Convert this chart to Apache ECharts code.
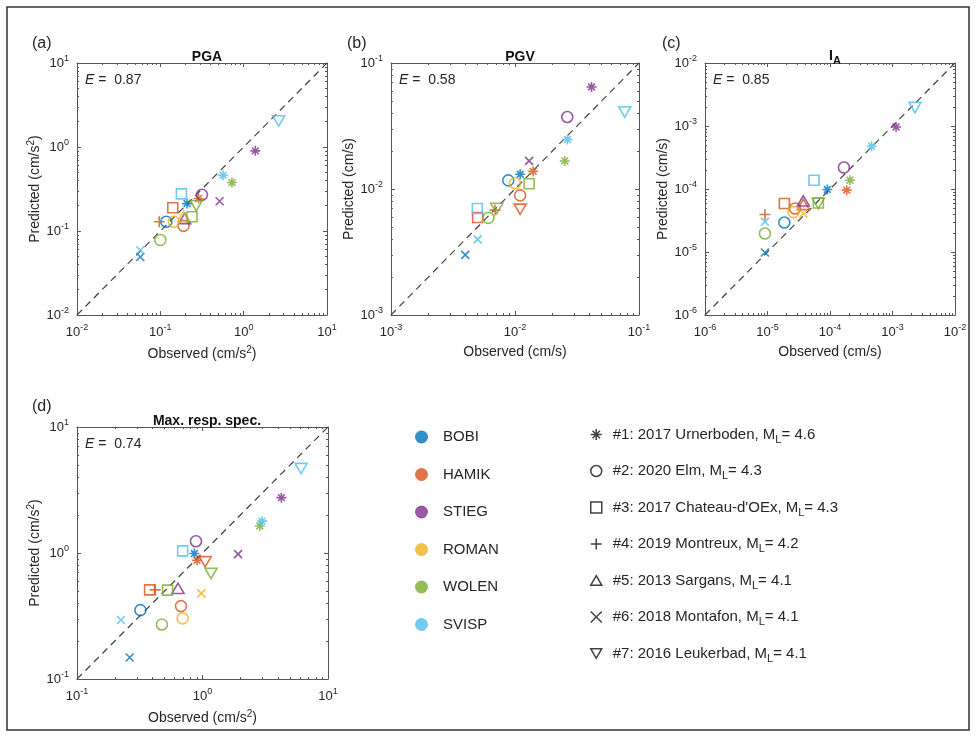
<!DOCTYPE html>
<html><head><meta charset="utf-8">
<script src="https://cdn.jsdelivr.net/npm/echarts@6/dist/echarts.min.js"></script>
<style>html,body{margin:0;padding:0;background:#fff}#c{width:976px;height:737px}</style>
</head><body><div id="c"></div>
<script>
// ---------------- DATA ----------------
const stations = ['BOBI', 'HAMIK', 'STIEG', 'ROMAN', 'WOLEN', 'SVISP'];
const stationColors = ['#0072BD', '#D95319', '#7E2F8E', '#EDB120', '#77AC30', '#4DBEEE'];
const eventLabels = ['#1: 2017 Urnerboden, M', '#2: 2020 Elm, M', "#3: 2017 Chateau-d'OEx, M",
  '#4: 2019 Montreux, M', '#5: 2013 Sargans, M', '#6: 2018 Montafon, M', '#7: 2016 Leukerbad, M'];
const eventMagnitudes = ['4.6', '4.3', '4.3', '4.2', '4.1', '4.1', '4.1'];
const panelLabels = ['(a)', '(b)', '(c)', '(d)'];
const panelTitles = ['PGA', 'PGV', 'IA', 'Max. resp. spec.'];
const efficiency = ['0.87', '0.58', '0.85', '0.74'];
const axisMin = [1e-2, 1e-3, 1e-6, 1e-1];
const axisMax = [1e1, 1e-1, 1e-2, 1e1];
const unitSquared = [true, false, false, true];

// rows: [station, event number, observed, predicted]
const pgaPoints = [
  ['BOBI', 1, 0.209, 0.212], ['BOBI', 2, 0.118, 0.129], ['BOBI', 6, 0.0575, 0.049],
  ['HAMIK', 1, 0.288, 0.244], ['HAMIK', 2, 0.19, 0.115], ['HAMIK', 3, 0.141, 0.189], ['HAMIK', 4, 0.097, 0.129],
  ['STIEG', 1, 1.38, 0.9], ['STIEG', 2, 0.316, 0.27], ['STIEG', 5, 0.196, 0.141], ['STIEG', 6, 0.515, 0.226],
  ['ROMAN', 2, 0.145, 0.129], ['ROMAN', 5, 0.19, 0.15],
  ['WOLEN', 1, 0.724, 0.378], ['WOLEN', 2, 0.1, 0.078], ['WOLEN', 3, 0.24, 0.148], ['WOLEN', 7, 0.27, 0.2],
  ['SVISP', 1, 0.565, 0.46], ['SVISP', 3, 0.179, 0.277], ['SVISP', 6, 0.0575, 0.059], ['SVISP', 7, 2.63, 2.04]
];
const pgvPoints = [
  ['BOBI', 1, 0.011, 0.0131], ['BOBI', 2, 0.00883, 0.0117], ['BOBI', 6, 0.00397, 0.003],
  ['HAMIK', 1, 0.014, 0.0138], ['HAMIK', 2, 0.011, 0.0089], ['HAMIK', 3, 0.005, 0.00594], ['HAMIK', 4, 0.0069, 0.0068], ['HAMIK', 7, 0.011, 0.0069],
  ['STIEG', 1, 0.0414, 0.0645], ['STIEG', 2, 0.0264, 0.0373], ['STIEG', 6, 0.013, 0.0167],
  ['ROMAN', 2, 0.01, 0.0111],
  ['WOLEN', 1, 0.0252, 0.0167], ['WOLEN', 2, 0.0061, 0.0059], ['WOLEN', 3, 0.013, 0.011], ['WOLEN', 7, 0.00713, 0.007],
  ['SVISP', 1, 0.0265, 0.0247], ['SVISP', 3, 0.00497, 0.007], ['SVISP', 6, 0.005, 0.00398], ['SVISP', 7, 0.0767, 0.0409]
];
const iaPoints = [
  ['BOBI', 1, 9.06e-5, 9.82e-5], ['BOBI', 2, 1.86e-5, 2.94e-5], ['BOBI', 6, 9.1e-6, 9.8e-6],
  ['HAMIK', 1, 1.85e-4, 9.59e-5], ['HAMIK', 2, 2.75e-5, 4.9e-5], ['HAMIK', 3, 1.86e-5, 5.89e-5], ['HAMIK', 4, 9.1e-6, 3.94e-5], ['HAMIK', 5, 3.74e-5, 5.68e-5],
  ['STIEG', 1, 1.14e-3, 9.66e-4], ['STIEG', 2, 1.67e-4, 2.19e-4], ['STIEG', 5, 3.74e-5, 6.49e-5],
  ['ROMAN', 2, 2.6e-5, 4.3e-5], ['ROMAN', 6, 3.74e-5, 4.09e-5],
  ['WOLEN', 1, 2.09e-4, 1.38e-4], ['WOLEN', 2, 9.1e-6, 1.97e-5], ['WOLEN', 3, 6.5e-5, 6.0e-5], ['WOLEN', 7, 6.5e-5, 5.89e-5],
  ['SVISP', 1, 4.64e-4, 4.77e-4], ['SVISP', 3, 5.55e-5, 1.38e-4], ['SVISP', 6, 9.1e-6, 3.02e-5], ['SVISP', 7, 2.29e-3, 1.96e-3]
];
const rsPoints = [
  ['BOBI', 1, 0.861, 0.99], ['BOBI', 2, 0.32, 0.352], ['BOBI', 6, 0.263, 0.148],
  ['HAMIK', 1, 0.904, 0.877], ['HAMIK', 2, 0.674, 0.379], ['HAMIK', 3, 0.379, 0.51], ['HAMIK', 4, 0.42, 0.51], ['HAMIK', 7, 1.05, 0.851],
  ['STIEG', 1, 4.25, 2.75], ['STIEG', 2, 0.887, 1.24], ['STIEG', 5, 0.638, 0.524], ['STIEG', 6, 1.92, 0.98],
  ['ROMAN', 2, 0.695, 0.303], ['ROMAN', 6, 0.98, 0.478],
  ['WOLEN', 1, 2.86, 1.64], ['WOLEN', 2, 0.475, 0.271], ['WOLEN', 3, 0.527, 0.507], ['WOLEN', 7, 1.17, 0.689],
  ['SVISP', 1, 2.98, 1.79], ['SVISP', 3, 0.695, 1.04], ['SVISP', 6, 0.224, 0.294], ['SVISP', 7, 6.1, 4.68]
];
const panelPoints = [pgaPoints, pgvPoints, iaPoints, rsPoints];

// ---------------- STYLE / LAYOUT ----------------
const FONT = '"Liberation Sans", Arial, Helvetica, sans-serif';
const TXT = '#262626';
const AX = '#555';
const grids = [
  { left: 77, top: 63, width: 250, height: 252 },
  { left: 391, top: 63, width: 248, height: 252 },
  { left: 705, top: 63, width: 250, height: 252 },
  { left: 77, top: 427, width: 251, height: 252 }
];
const eventSymbols = [
  'path://M5 0L5 10M0 5L10 5M1.6 1.6L8.4 8.4M8.4 1.6L1.6 8.4',
  'circle',
  'rect',
  'path://M5 0L5 10M0 5L10 5',
  'path://M5 0L10 8.66L0 8.66Z',
  'path://M0 0L10 10M10 0L0 10',
  'path://M0 0L10 0L5 8.66Z'
];
const eventSizes = [10, 11, 10, 11, 12, 8, 12];

const supRich = {
  b: { fontSize: 13, color: TXT, fontFamily: FONT },
  s: { fontSize: 9, color: TXT, fontFamily: FONT, padding: [0, 0, 9, 0] }
};
function tickFmt(v) {
  const e = Math.round(Math.log10(v));
  return '{b|10}{s|' + e + '}';
}
const nameRich = {
  n: { fontSize: 14, color: TXT, fontFamily: FONT },
  s: { fontSize: 10, color: TXT, fontFamily: FONT, padding: [0, 0, 9, 0] }
};
function axisName(word, sq) {
  return sq ? '{n|' + word + ' (cm/s}{s|2}{n|)}' : '{n|' + word + ' (cm/s)}';
}

const xAxes = [], yAxes = [], series = [], titles = [];
grids.forEach((g, p) => {
  const common = {
    type: 'log', logBase: 10, min: axisMin[p], max: axisMax[p], gridIndex: p, interval: 1,
    axisLine: { show: true, lineStyle: { color: AX, width: 1 } },
    axisTick: { show: true, inside: true, length: 4, lineStyle: { color: AX } },
    minorTick: { show: true, splitNumber: 9, length: 2, lineStyle: { color: AX } },
    splitLine: { show: false }
  };
  xAxes.push(Object.assign({}, common, {
    position: 'bottom',
    axisLabel: { formatter: tickFmt, rich: supRich, margin: 8 },
    name: axisName('Observed', unitSquared[p]), nameLocation: 'middle', nameGap: 30,
    nameTextStyle: { rich: nameRich }
  }));
  xAxes.push(Object.assign({}, common, { position: 'top', axisLabel: { show: false } }));
  yAxes.push(Object.assign({}, common, {
    position: 'left',
    axisLabel: { formatter: tickFmt, rich: supRich, margin: 8 },
    name: axisName('Predicted', unitSquared[p]), nameLocation: 'middle', nameGap: 32,
    nameRotate: 90, nameTextStyle: { rich: nameRich }
  }));
  yAxes.push(Object.assign({}, common, { position: 'right', axisLabel: { show: false } }));

  // 1:1 dashed line from axis limits
  series.push({
    type: 'line', xAxisIndex: 2 * p, yAxisIndex: 2 * p, silent: true, symbol: 'none', z: 1,
    data: [[axisMin[p], axisMin[p]], [axisMax[p], axisMax[p]]],
    lineStyle: { color: '#444', width: 1.2, type: [7, 5] }
  });
  stations.forEach((s, si) => {
    const rows = panelPoints[p].filter(r => r[0] === s);
    series.push({
      name: s, type: 'scatter', xAxisIndex: 2 * p, yAxisIndex: 2 * p, z: 3,
      data: rows.map(r => [r[2], r[3], r[1]]),
      symbol: v => eventSymbols[v[2] - 1],
      symbolSize: v => eventSizes[v[2] - 1],
      symbolKeepAspect: true,
      itemStyle: { color: 'rgba(0,0,0,0)', borderColor: stationColors[si], borderWidth: 1.6 },
      emphasis: { disabled: true }
    });
  });
});

// dummy series for event legend
const eventKeys = eventLabels.map((l, i) => l + '_L= ' + eventMagnitudes[i]);
eventKeys.forEach(k => series.push({ name: k, type: 'scatter', data: [], xAxisIndex: 0, yAxisIndex: 0 }));

// titles
const labelPos = [[27, 31], [342, 31], [657, 31], [27, 394]];
panelLabels.forEach((t, i) => titles.push({
  text: t, left: labelPos[i][0], top: labelPos[i][1],
  textStyle: { fontSize: 16, fontWeight: 'normal', color: TXT, fontFamily: FONT }
}));
const titleCenters = [[202, 45], [515, 45], [830, 41], [202, 409]];
panelTitles.forEach((t, i) => {
  const text = t === 'IA' ? '{b|I}{sub|A}' : '{b|' + t + '}';
  titles.push({
    text, left: titleCenters[i][0], top: titleCenters[i][1], textAlign: 'center',
    textStyle: {
      rich: {
        b: { fontSize: 14, fontWeight: 'bold', color: '#111', fontFamily: FONT },
        sub: { fontSize: 11, fontWeight: 'bold', color: '#111', fontFamily: FONT, padding: [9, 0, 0, 0] }
      }
    }
  });
});
grids.forEach((g, i) => titles.push({
  text: '{i|E}{n| =  ' + efficiency[i] + '}', left: g.left + 3, top: g.top + 5,
  textStyle: {
    fontWeight: 'normal',
    rich: {
      i: { fontSize: 14, fontStyle: 'italic', fontWeight: 'normal', color: TXT, fontFamily: FONT },
      n: { fontSize: 14, fontWeight: 'normal', color: TXT, fontFamily: FONT }
    }
  }
}));

const option = {
  animation: false,
  backgroundColor: '#fff',
  textStyle: { fontFamily: FONT },
  title: titles,
  grid: grids.map(g => Object.assign({ containLabel: false }, g)),
  xAxis: xAxes,
  yAxis: yAxes,
  legend: [
    {
      orient: 'vertical', left: 410, top: 424, itemGap: 21.5, itemWidth: 13, itemHeight: 13,
      selectedMode: false,
      data: stations.map((s, i) => ({ name: s, icon: 'circle', itemStyle: { color: stationColors[i], borderWidth: 0 } })),
      textStyle: { fontSize: 15, color: TXT, fontFamily: FONT, lineHeight: 16, padding: [0, 0, 0, 10] }
    },
    {
      orient: 'vertical', left: 585, top: 422, itemGap: 18.5, itemWidth: 11, itemHeight: 11,
      selectedMode: false,
      data: eventKeys.map((k, i) => ({
        name: k, icon: eventSymbols[i],
        itemStyle: { color: 'rgba(0,0,0,0)', borderColor: '#111', borderWidth: 1.5 }
      })),
      formatter: name => {
        const parts = name.split('_L');
        return '{t|' + parts[0] + '}{sub|L}{t|' + parts[1] + '}';
      },
      textStyle: {
        rich: {
          t: { fontSize: 15, color: TXT, fontFamily: FONT },
          sub: { fontSize: 11, color: TXT, fontFamily: FONT, padding: [10, 0, 0, 0] }
        },
        padding: [0, 0, 0, 6]
      }
    }
  ],
  graphic: [{
    type: 'rect', shape: { x: 7, y: 7, width: 962, height: 723 },
    style: { fill: 'none', stroke: '#333', lineWidth: 1.5 }, silent: true
  }],
  series
};
const chart = echarts.init(document.getElementById('c'), null, { renderer: 'canvas' });
chart.setOption(option);
</script></body></html>
